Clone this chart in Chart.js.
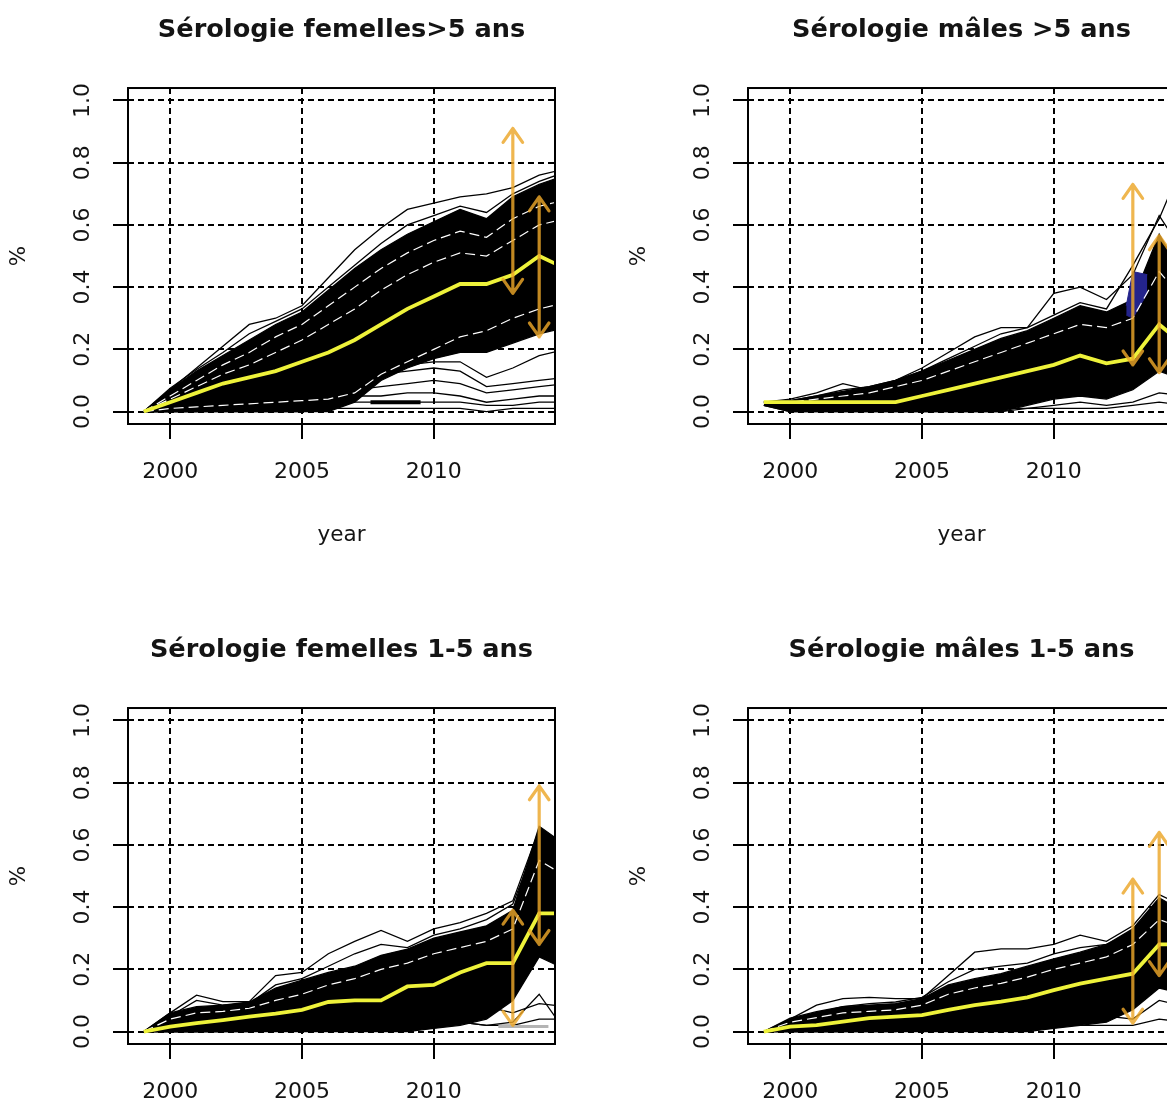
<!DOCTYPE html>
<html>
<head>
<meta charset="utf-8">
<script src="https://cdn.jsdelivr.net/npm/chart.js@4/dist/chart.umd.min.js"></script>
<style>
  html, body { margin: 0; padding: 0; background: #fff; }
  body { width: 1167px; height: 1104px; overflow: hidden; position: relative; }
  .cell { position: absolute; width: 620px; height: 620px; }
</style>
</head>
<body>
<div class="cell" style="left:0;top:0"><canvas id="p1" width="620" height="620"></canvas></div>
<div class="cell" style="left:620px;top:0"><canvas id="p2" width="620" height="620"></canvas></div>
<div class="cell" style="left:0;top:620px"><canvas id="p3" width="620" height="620"></canvas></div>
<div class="cell" style="left:620px;top:620px"><canvas id="p4" width="620" height="620"></canvas></div>
<script>
// ---- axes ----
const years = [1999, 2000, 2001, 2002, 2003, 2004, 2005, 2006, 2007, 2008, 2009, 2010, 2011, 2012, 2013, 2014, 2015];
const xTickValues = [2000, 2005, 2010];
const xTickLabels = ['2000', '2005', '2010'];
const yTickValues = [0, 0.2, 0.4, 0.6, 0.8, 1.0];
const yTickLabels = ['0.0', '0.2', '0.4', '0.6', '0.8', '1.0'];
const xTitle = 'year';
const yTitle = '%';
const titles = ['Sérologie femelles>5 ans', 'Sérologie mâles >5 ans', 'Sérologie femelles 1-5 ans', 'Sérologie mâles 1-5 ans'];

// observed prevalence intervals (arrows)
const obsYears = [2013, 2014];
const obsLow1 = [0.38, 0.24],  obsHigh1 = [0.91, 0.69];
const obsLow2 = [0.15, 0.125], obsHigh2 = [0.73, 0.565];
const obsLow3 = [0.02, 0.28],  obsHigh3 = [0.39, 0.79];
const obsLow4 = [0.027, 0.18], obsHigh4 = [0.49, 0.64];

// ---- femelles > 5 ans ----
const median1   = [0, 0.03, 0.06, 0.09, 0.11, 0.13, 0.16, 0.19, 0.23, 0.28, 0.33, 0.37, 0.41, 0.41, 0.44, 0.50, 0.46];
const cloudTop1 = [0, 0.07, 0.13, 0.18, 0.23, 0.28, 0.32, 0.39, 0.46, 0.52, 0.57, 0.61, 0.65, 0.62, 0.69, 0.73, 0.76];
const cloudLow1 = [0, 0, 0, 0, 0, 0, 0, 0, 0.03, 0.10, 0.14, 0.17, 0.19, 0.19, 0.22, 0.25, 0.27];
const sim1a = [0, 0.07, 0.14, 0.21, 0.28, 0.30, 0.34, 0.43, 0.52, 0.59, 0.65, 0.67, 0.69, 0.70, 0.72, 0.76, 0.78];
const sim1b = [0, 0.075, 0.135, 0.19, 0.25, 0.29, 0.33, 0.40, 0.47, 0.54, 0.60, 0.63, 0.66, 0.64, 0.70, 0.74, 0.77];
const sim1c = [0, 0.02, 0.03, 0.05, 0.06, 0.07, 0.08, 0.10, 0.12, 0.14, 0.15, 0.16, 0.16, 0.11, 0.14, 0.18, 0.20];
const sim1d = [0, 0.01, 0.02, 0.04, 0.05, 0.06, 0.07, 0.08, 0.10, 0.12, 0.13, 0.14, 0.13, 0.08, 0.09, 0.10, 0.11];
const sim1e = [0, 0.01, 0.02, 0.03, 0.04, 0.04, 0.05, 0.06, 0.07, 0.08, 0.09, 0.10, 0.09, 0.06, 0.07, 0.08, 0.09];
const sim1f = [0, 0, 0.01, 0.02, 0.02, 0.03, 0.03, 0.04, 0.05, 0.05, 0.06, 0.06, 0.05, 0.03, 0.04, 0.05, 0.05];
const sim1g = [0, 0, 0, 0.01, 0.01, 0.01, 0.02, 0.02, 0.03, 0.03, 0.03, 0.03, 0.03, 0.02, 0.02, 0.03, 0.03];
const sim1h = [0, 0, 0, 0, 0, 0, 0, 0.01, 0.01, 0.01, 0.01, 0.01, 0.01, 0, 0.01, 0.01, 0.01];
const gap1a = [0, 0.05, 0.10, 0.15, 0.19, 0.24, 0.28, 0.34, 0.40, 0.46, 0.51, 0.55, 0.58, 0.56, 0.62, 0.66, 0.68];
const gap1b = [0, 0.04, 0.08, 0.12, 0.15, 0.19, 0.23, 0.28, 0.33, 0.39, 0.44, 0.48, 0.51, 0.50, 0.55, 0.60, 0.62];
const gap1c = [0, 0.01, 0.015, 0.02, 0.025, 0.03, 0.035, 0.04, 0.06, 0.12, 0.16, 0.20, 0.24, 0.26, 0.30, 0.33, 0.35];
const bar1X = [2007.6, 2009.5], bar1Y = [0.03, 0.03];

// ---- mâles > 5 ans ----
const median2   = [0.03, 0.03, 0.03, 0.03, 0.03, 0.03, 0.05, 0.07, 0.09, 0.11, 0.13, 0.15, 0.18, 0.155, 0.17, 0.28, 0.21];
const cloudTop2 = [0.03, 0.035, 0.05, 0.065, 0.08, 0.10, 0.13, 0.165, 0.20, 0.235, 0.26, 0.30, 0.34, 0.32, 0.36, 0.57, 0.42];
const cloudLow2 = [0.02, 0, 0, 0, 0, 0, 0, 0, 0, 0, 0.02, 0.04, 0.05, 0.04, 0.07, 0.13, 0.10];
const sim2a = [0.03, 0.04, 0.06, 0.09, 0.07, 0.10, 0.14, 0.19, 0.24, 0.27, 0.27, 0.38, 0.40, 0.36, 0.44, 0.63, 0.50];
const sim2b = [0.03, 0.035, 0.05, 0.07, 0.08, 0.10, 0.13, 0.17, 0.21, 0.25, 0.27, 0.31, 0.35, 0.33, 0.47, 0.62, 0.82];
const sim2c = [0.02, 0.01, 0.01, 0.01, 0.01, 0.01, 0.01, 0.01, 0.01, 0.01, 0.01, 0.02, 0.03, 0.02, 0.03, 0.06, 0.05];
const sim2d = [0.02, 0, 0, 0, 0, 0, 0, 0, 0, 0, 0.01, 0.01, 0.01, 0.01, 0.02, 0.03, 0.02];
const gap2a = [0.03, 0.03, 0.04, 0.05, 0.06, 0.08, 0.10, 0.13, 0.16, 0.19, 0.22, 0.25, 0.28, 0.27, 0.30, 0.45, 0.35];
const navyX = [2012.75, 2013.0, 2013.55];
const navyTop = [0.34, 0.45, 0.44];
const navyLow = [0.31, 0.30, 0.38];

// ---- femelles 1-5 ans ----
const median3   = [0, 0.016, 0.027, 0.037, 0.048, 0.058, 0.07, 0.095, 0.10, 0.10, 0.145, 0.15, 0.19, 0.22, 0.22, 0.38, 0.38];
const cloudTop3 = [0, 0.06, 0.08, 0.085, 0.095, 0.14, 0.165, 0.19, 0.21, 0.245, 0.265, 0.30, 0.32, 0.34, 0.39, 0.66, 0.60];
const cloudLow3 = [0, 0, 0, 0, 0, 0, 0, 0, 0, 0, 0, 0.01, 0.02, 0.04, 0.10, 0.24, 0.20];
const sim3a = [0, 0.06, 0.117, 0.096, 0.096, 0.18, 0.19, 0.25, 0.29, 0.325, 0.29, 0.33, 0.35, 0.38, 0.42, 0.65, 0.60];
const sim3b = [0, 0.05, 0.10, 0.085, 0.09, 0.15, 0.17, 0.21, 0.25, 0.28, 0.27, 0.31, 0.33, 0.36, 0.41, 0.63, 0.58];
const sim3c = [0, 0, 0, 0, 0.01, 0.01, 0.01, 0.02, 0.02, 0.02, 0.03, 0.03, 0.03, 0.02, 0.03, 0.12, 0.0];
const sim3d = [0, 0, 0, 0.01, 0.01, 0.02, 0.02, 0.03, 0.04, 0.05, 0.06, 0.07, 0.08, 0.08, 0.06, 0.09, 0.08];
const sim3e = [0, 0, 0, 0, 0, 0.01, 0.01, 0.01, 0.01, 0.02, 0.02, 0.02, 0.03, 0.02, 0.02, 0.04, 0.04];
const gap3a = [0, 0.04, 0.06, 0.065, 0.075, 0.10, 0.12, 0.15, 0.17, 0.20, 0.22, 0.25, 0.27, 0.29, 0.33, 0.55, 0.50];
const grey3X = [2012.45, 2014.35], grey3Y = [0.016, 0.016];

// ---- mâles 1-5 ans ----
const median4   = [0, 0.016, 0.021, 0.032, 0.043, 0.048, 0.053, 0.07, 0.085, 0.096, 0.11, 0.133, 0.154, 0.17, 0.186, 0.28, 0.28];
const cloudTop4 = [0, 0.043, 0.064, 0.08, 0.085, 0.09, 0.106, 0.15, 0.17, 0.186, 0.21, 0.234, 0.255, 0.28, 0.33, 0.43, 0.38];
const cloudLow4 = [0, 0, 0, 0, 0, 0, 0, 0, 0, 0, 0, 0.01, 0.02, 0.03, 0.07, 0.14, 0.12];
const sim4a = [0, 0.04, 0.085, 0.106, 0.11, 0.106, 0.106, 0.18, 0.255, 0.266, 0.266, 0.28, 0.31, 0.29, 0.34, 0.44, 0.40];
const sim4b = [0, 0.03, 0.06, 0.08, 0.09, 0.095, 0.11, 0.16, 0.20, 0.21, 0.22, 0.25, 0.27, 0.28, 0.32, 0.42, 0.38];
const sim4c = [0, 0, 0, 0, 0.01, 0.01, 0.01, 0.02, 0.02, 0.03, 0.03, 0.04, 0.05, 0.05, 0.04, 0.10, 0.08];
const sim4d = [0, 0, 0, 0, 0, 0, 0.01, 0.01, 0.01, 0.01, 0.01, 0.02, 0.02, 0.02, 0.02, 0.04, 0.03];
const gap4a = [0, 0.03, 0.045, 0.06, 0.065, 0.07, 0.085, 0.12, 0.14, 0.155, 0.175, 0.20, 0.22, 0.24, 0.28, 0.36, 0.33];

// ---- styling ----
const FONT = "'DejaVu Sans', sans-serif";
const TXT = '#141414';
const YELLOW = '#eef23a';
const ORANGE = 'rgba(236, 166, 40, 0.82)';
const NAVY = '#24248c';

const pts = (xs, ys) => xs.map((x, i) => ({ x: x, y: ys[i] }));
const line = (xs, ys, color, width, extra) => Object.assign({
  data: pts(xs, ys), borderColor: color, borderWidth: width, backgroundColor: color,
  pointRadius: 0, tension: 0, fill: false, clip: 0
}, extra || {});

// two-headed arrows for the observed intervals
function arrowPlugin(xs, lows, highs) {
  return {
    id: 'obsArrows',
    afterDatasetsDraw(chart) {
      const { ctx, scales: { x, y } } = chart;
      const L = 17, a = 35 * Math.PI / 180;
      const dx = L * Math.sin(a), dy = L * Math.cos(a);
      ctx.save();
      ctx.strokeStyle = ORANGE;
      ctx.lineWidth = 3.2;
      ctx.lineCap = 'round';
      ctx.lineJoin = 'round';
      xs.forEach((xv, i) => {
        const px = x.getPixelForValue(xv);
        const pLow = y.getPixelForValue(lows[i]);
        const pHigh = y.getPixelForValue(highs[i]);
        ctx.beginPath();
        ctx.moveTo(px, pLow); ctx.lineTo(px, pHigh);
        ctx.moveTo(px - dx, pHigh + dy); ctx.lineTo(px, pHigh); ctx.lineTo(px + dx, pHigh + dy);
        ctx.moveTo(px - dx, pLow - dy); ctx.lineTo(px, pLow); ctx.lineTo(px + dx, pLow - dy);
        ctx.stroke();
      });
      ctx.restore();
    }
  };
}

// plot frame around the chart area
const framePlugin = {
  id: 'frame',
  afterDraw(chart) {
    const { ctx, chartArea: c } = chart;
    ctx.save();
    ctx.strokeStyle = '#000';
    ctx.lineWidth = 2;
    ctx.strokeRect(c.left, c.top, c.right - c.left, c.bottom - c.top);
    ctx.restore();
  }
};

function gridOpts() {
  return { color: '#000', lineWidth: 2, drawTicks: true, tickLength: 15, tickColor: '#000', tickWidth: 2 };
}

function makePanel(id, title, p) {
  const ds = [];
  ds.push(line(years, p.median, YELLOW, 3.8));
  p.gaps.forEach(g => ds.push(line(years, g, '#ffffff', 1.2, { borderDash: [10, 5] })));
  (p.extras || []).forEach(e => ds.push(e));
  p.sims.forEach(s => ds.push(line(years, s, '#000', 1.3)));
  if (p.navy) {
    ds.push(line(p.navy.x, p.navy.top, NAVY, 1, { fill: '+1', backgroundColor: NAVY }));
    ds.push(line(p.navy.x, p.navy.low, NAVY, 1));
  }
  ds.push(line(years, p.cloudTop, '#000', 1.3, { fill: '+1', backgroundColor: '#000' }));
  ds.push(line(years, p.cloudLow, '#000', 1.3));

  return new Chart(document.getElementById(id), {
    type: 'line',
    data: { datasets: ds },
    plugins: [arrowPlugin(obsYears, p.low, p.high), framePlugin],
    options: {
      responsive: false,
      animation: false,
      events: [],
      devicePixelRatio: 1,
      layout: { padding: { left: 0, right: 65, top: 0, bottom: 0 } },
      plugins: {
        legend: { display: false },
        tooltip: { enabled: false },
        title: {
          display: true, text: title, fullSize: false, color: TXT,
          font: { family: FONT, size: 25.6, weight: 'bold', lineHeight: 1.2 },
          padding: { top: 14.6, bottom: 42.7 }
        }
      },
      scales: {
        x: {
          type: 'linear', position: 'bottom', min: 1998.4, max: 2014.6,
          afterBuildTicks: s => { s.ticks = xTickValues.map(v => ({ value: v })); },
          afterFit: s => { s.height = 196; },
          grid: gridOpts(),
          border: { display: false, dash: [6, 4] },
          ticks: {
            autoSkip: false, minRotation: 0, maxRotation: 0, padding: 20.5, color: TXT,
            font: { family: FONT, size: 22 },
            callback: (v, i) => xTickLabels[i]
          },
          title: { display: true, text: xTitle, color: TXT, font: { family: FONT, size: 21.5 }, padding: { top: 0, bottom: 72 } }
        },
        y: {
          type: 'linear', position: 'left', min: -0.04, max: 1.04,
          afterBuildTicks: s => { s.ticks = yTickValues.map(v => ({ value: v })); },
          afterFit: s => { s.width = 128; },
          grid: gridOpts(),
          border: { display: false, dash: [6, 4] },
          ticks: {
            autoSkip: false, minRotation: 90, maxRotation: 90, crossAlign: 'center', padding: 12, color: TXT,
            font: { family: FONT, size: 22 },
            callback: (v, i) => yTickLabels[i]
          },
          title: { display: true, text: yTitle, color: TXT, font: { family: FONT, size: 21.5 }, padding: { top: 6.6, bottom: 0 } }
        }
      }
    }
  });
}

makePanel('p1', titles[0], {
  median: median1, cloudTop: cloudTop1, cloudLow: cloudLow1,
  sims: [sim1a, sim1b, sim1c, sim1d, sim1e, sim1f, sim1g, sim1h],
  gaps: [gap1a, gap1b, gap1c],
  extras: [line(bar1X, bar1Y, '#000', 4)],
  low: obsLow1, high: obsHigh1
});
makePanel('p2', titles[1], {
  median: median2, cloudTop: cloudTop2, cloudLow: cloudLow2,
  sims: [sim2a, sim2b, sim2c, sim2d],
  gaps: [gap2a],
  navy: { x: navyX, top: navyTop, low: navyLow },
  low: obsLow2, high: obsHigh2
});
makePanel('p3', titles[2], {
  median: median3, cloudTop: cloudTop3, cloudLow: cloudLow3,
  sims: [sim3a, sim3b, sim3c, sim3d, sim3e],
  gaps: [gap3a],
  extras: [line(grey3X, grey3Y, '#b4b4b4', 3)],
  low: obsLow3, high: obsHigh3
});
makePanel('p4', titles[3], {
  median: median4, cloudTop: cloudTop4, cloudLow: cloudLow4,
  sims: [sim4a, sim4b, sim4c, sim4d],
  gaps: [gap4a],
  low: obsLow4, high: obsHigh4
});
</script>
</body>
</html>
